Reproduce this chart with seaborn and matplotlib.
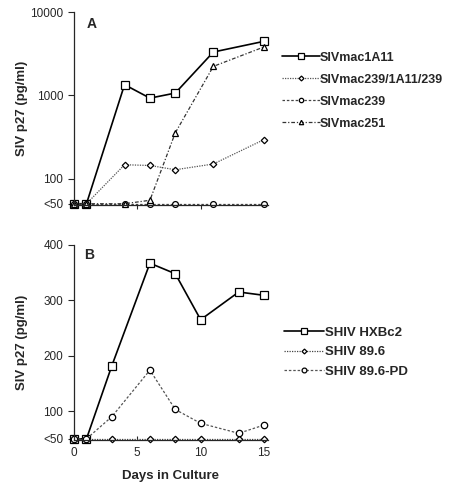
import matplotlib
matplotlib.use("Agg")
import matplotlib.pyplot as plt
import pandas as pd
import seaborn as sns

# Panel A: SIV strains (log scale, values below 50 plotted at 50)
days_a = [0, 1, 4, 6, 8, 11, 15]
siv_1a11 = [50, 50, 1345, 927, 1066, 3316, 4460]
siv_chimera = [50, 50, 147, 144, 128, 150, 295]
siv_239 = [50, 50, 50, 50, 50, 50, 50]
siv_251 = [50, 50, 50, 55, 355, 2230, 3820]
names_a = ["SIVmac1A11", "SIVmac239/1A11/239", "SIVmac239", "SIVmac251"]

# Panel B: SHIV strains (linear scale)
days_b = [0, 1, 3, 6, 8, 10, 13, 15]
shiv_hxbc2 = [50, 50, 182, 367, 348, 265, 315, 309]
shiv_896 = [50, 50, 50, 50, 50, 50, 50, 50]
shiv_896pd = [50, 50, 90, 174, 103, 78, 60, 75]
names_b = ["SHIV HXBc2", "SHIV 89.6", "SHIV 89.6-PD"]


def long_table(days, series, names):
    rows = []
    for name, vals in zip(names, series):
        for d, v in zip(days, vals):
            rows.append({"day": d, "value": v, "strain": name})
    return pd.DataFrame(rows)


df_a = long_table(days_a, [siv_1a11, siv_chimera, siv_239, siv_251], names_a)
df_b = long_table(days_b, [shiv_hxbc2, shiv_896, shiv_896pd], names_b)

sns.set_theme(style="ticks")
plt.rcParams["font.family"] = ["Liberation Sans", "DejaVu Sans"]

styles_a = {
    "SIVmac1A11": dict(marker="s", ls="-", color="black", lw=1.2, ms=5.5),
    "SIVmac239/1A11/239": dict(marker="D", ls=(0, (1, 1)), color="#555555", lw=0.9, ms=3.3),
    "SIVmac239": dict(marker="o", ls=(0, (2, 1.5)), color="#444444", lw=0.9, ms=4.2),
    "SIVmac251": dict(marker="^", ls=(0, (3, 1.5, 1, 1.5)), color="#333333", lw=0.9, ms=4.2),
}
styles_b = {
    "SHIV HXBc2": dict(marker="s", ls="-", color="black", lw=1.2, ms=5.5),
    "SHIV 89.6": dict(marker="D", ls=(0, (1, 1)), color="#444444", lw=0.9, ms=3.3),
    "SHIV 89.6-PD": dict(marker="o", ls=(0, (2, 1.5)), color="#555555", lw=0.9, ms=4.6),
}

fig = plt.figure(figsize=(4.7, 4.84), dpi=100)
ax_a = fig.add_axes([0.157, 0.576, 0.413, 0.399])
ax_b = fig.add_axes([0.157, 0.091, 0.413, 0.403])


def draw(ax, df, names, styles):
    for name in names:
        st = styles[name]
        sns.lineplot(data=df[df["strain"] == name], x="day", y="value", ax=ax,
                     label=name, marker=st["marker"], linestyle=st["ls"], color=st["color"],
                     linewidth=st["lw"], markersize=st["ms"], markeredgewidth=0.9,
                     markerfacecolor="white", markeredgecolor="black", clip_on=False,
                     errorbar=None)


ax_a.set_yscale("log")
draw(ax_a, df_a, names_a, styles_a)
draw(ax_b, df_b, names_b, styles_b)

# axes A
ax_a.set_xlim(0, 15.3)
ax_a.set_ylim(48, 10000)
ax_a.set_yticks([50, 100, 1000, 10000])
ax_a.set_yticklabels(["<50", "100", "1000", "10000"])
ax_a.minorticks_off()
ax_a.set_xticks([5, 10])
ax_a.set_xticklabels([])
ax_a.tick_params(axis="x", direction="out", length=3, width=0.8)
ax_a.set_xlabel("")

# axes B
ax_b.set_xlim(0, 15.3)
ax_b.set_ylim(48, 400)
ax_b.set_yticks([50, 100, 200, 300, 400])
ax_b.set_yticklabels(["<50", "100", "200", "300", "400"])
ax_b.set_xticks([0, 5, 10, 15])
ax_b.tick_params(axis="x", direction="in", length=3, width=0.8, pad=5)
ax_b.set_xlabel("Days in Culture", fontsize=9.5, fontweight="bold", labelpad=8)

for ax in (ax_a, ax_b):
    sns.despine(ax=ax)
    ax.spines["left"].set_linewidth(0.9)
    ax.spines["bottom"].set_linewidth(0.9)
    ax.tick_params(axis="y", direction="out", length=4, width=0.8, labelsize=8.5)
    ax.tick_params(axis="x", labelsize=8.5)
    ax.set_ylabel("SIV p27 (pg/ml)", fontsize=9.5, fontweight="bold")
    ax.yaxis.set_label_coords(-0.235, 0.5)

ax_a.text(0.065, 0.92, "A", transform=ax_a.transAxes, fontsize=10, fontweight="bold")
ax_b.text(0.055, 0.93, "B", transform=ax_b.transAxes, fontsize=10, fontweight="bold")

leg_a = ax_a.legend(loc="upper left", bbox_to_anchor=(0.6, 0.893), bbox_transform=fig.transFigure,
                    frameon=False, handlelength=3.0, handletextpad=0.05, labelspacing=0.8,
                    markerscale=0.75, prop={"size": 9, "weight": "bold"},
                    borderaxespad=0, borderpad=0)
leg_b = ax_b.legend(loc="upper left", bbox_to_anchor=(0.605, 0.325), bbox_transform=fig.transFigure,
                    frameon=False, handlelength=3.0, handletextpad=0.05, labelspacing=0.55,
                    markerscale=0.75, prop={"size": 9.5, "weight": "bold"},
                    borderaxespad=0, borderpad=0)

fig.savefig("out.png", dpi=100)
